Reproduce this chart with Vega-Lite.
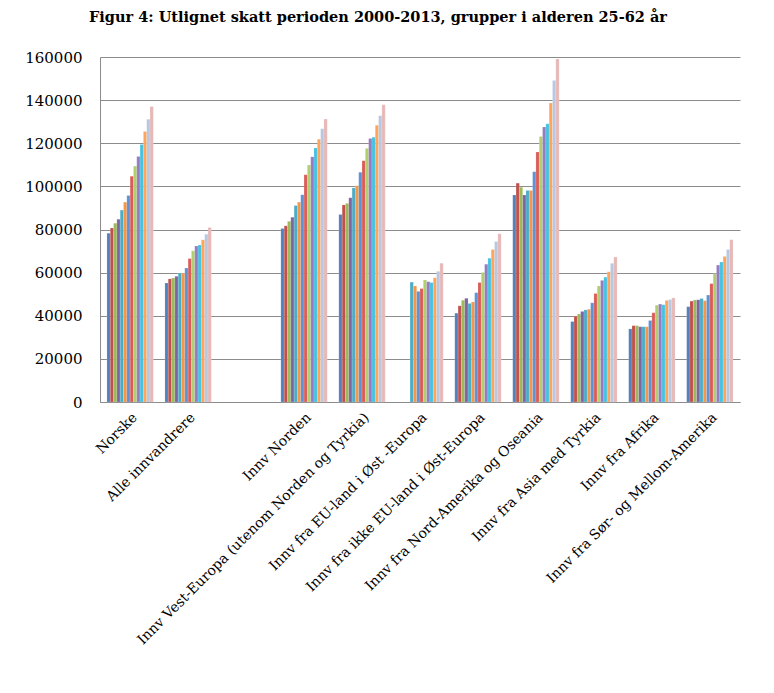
{
  "$schema": "https://vega.github.io/schema/vega-lite/v6.json",
  "autosize": {"type": "none"},
  "padding": {"left": 100, "top": 57, "right": 34, "bottom": 291},
  "width": 640,
  "height": 345,
  "title": {
    "text": "Figur 4: Utlignet skatt perioden 2000-2013, grupper i alderen 25-62 år",
    "font": "DejaVu Serif",
    "fontSize": 14.5,
    "fontWeight": "bold",
    "color": "black",
    "anchor": "middle",
    "offset": 25,
    "dx": -42
  },
  "data": {
    "values": [
      {"gruppe": "Norske", "aar": "2000", "skatt": 78300},
      {"gruppe": "Norske", "aar": "2001", "skatt": 80700},
      {"gruppe": "Norske", "aar": "2002", "skatt": 82900},
      {"gruppe": "Norske", "aar": "2003", "skatt": 84800},
      {"gruppe": "Norske", "aar": "2004", "skatt": 89000},
      {"gruppe": "Norske", "aar": "2005", "skatt": 92700},
      {"gruppe": "Norske", "aar": "2006", "skatt": 95800},
      {"gruppe": "Norske", "aar": "2007", "skatt": 104700},
      {"gruppe": "Norske", "aar": "2008", "skatt": 109400},
      {"gruppe": "Norske", "aar": "2009", "skatt": 113900},
      {"gruppe": "Norske", "aar": "2010", "skatt": 119400},
      {"gruppe": "Norske", "aar": "2011", "skatt": 125500},
      {"gruppe": "Norske", "aar": "2012", "skatt": 131100},
      {"gruppe": "Norske", "aar": "2013", "skatt": 137000},
      {"gruppe": "Alle innvandrere", "aar": "2000", "skatt": 55200},
      {"gruppe": "Alle innvandrere", "aar": "2001", "skatt": 57100},
      {"gruppe": "Alle innvandrere", "aar": "2002", "skatt": 57500},
      {"gruppe": "Alle innvandrere", "aar": "2003", "skatt": 58300},
      {"gruppe": "Alle innvandrere", "aar": "2004", "skatt": 59800},
      {"gruppe": "Alle innvandrere", "aar": "2005", "skatt": 59800},
      {"gruppe": "Alle innvandrere", "aar": "2006", "skatt": 62100},
      {"gruppe": "Alle innvandrere", "aar": "2007", "skatt": 66500},
      {"gruppe": "Alle innvandrere", "aar": "2008", "skatt": 70100},
      {"gruppe": "Alle innvandrere", "aar": "2009", "skatt": 72400},
      {"gruppe": "Alle innvandrere", "aar": "2010", "skatt": 72800},
      {"gruppe": "Alle innvandrere", "aar": "2011", "skatt": 75200},
      {"gruppe": "Alle innvandrere", "aar": "2012", "skatt": 77800},
      {"gruppe": "Alle innvandrere", "aar": "2013", "skatt": 80900},
      {"gruppe": "Innv Norden", "aar": "2000", "skatt": 80500},
      {"gruppe": "Innv Norden", "aar": "2001", "skatt": 81700},
      {"gruppe": "Innv Norden", "aar": "2002", "skatt": 83800},
      {"gruppe": "Innv Norden", "aar": "2003", "skatt": 85700},
      {"gruppe": "Innv Norden", "aar": "2004", "skatt": 91100},
      {"gruppe": "Innv Norden", "aar": "2005", "skatt": 92700},
      {"gruppe": "Innv Norden", "aar": "2006", "skatt": 96100},
      {"gruppe": "Innv Norden", "aar": "2007", "skatt": 105400},
      {"gruppe": "Innv Norden", "aar": "2008", "skatt": 109900},
      {"gruppe": "Innv Norden", "aar": "2009", "skatt": 113700},
      {"gruppe": "Innv Norden", "aar": "2010", "skatt": 117800},
      {"gruppe": "Innv Norden", "aar": "2011", "skatt": 121800},
      {"gruppe": "Innv Norden", "aar": "2012", "skatt": 126700},
      {"gruppe": "Innv Norden", "aar": "2013", "skatt": 131200},
      {"gruppe": "Innv Vest-Europa (utenom Norden og Tyrkia)", "aar": "2000", "skatt": 86900},
      {"gruppe": "Innv Vest-Europa (utenom Norden og Tyrkia)", "aar": "2001", "skatt": 91400},
      {"gruppe": "Innv Vest-Europa (utenom Norden og Tyrkia)", "aar": "2002", "skatt": 92100},
      {"gruppe": "Innv Vest-Europa (utenom Norden og Tyrkia)", "aar": "2003", "skatt": 94700},
      {"gruppe": "Innv Vest-Europa (utenom Norden og Tyrkia)", "aar": "2004", "skatt": 99300},
      {"gruppe": "Innv Vest-Europa (utenom Norden og Tyrkia)", "aar": "2005", "skatt": 100300},
      {"gruppe": "Innv Vest-Europa (utenom Norden og Tyrkia)", "aar": "2006", "skatt": 106500},
      {"gruppe": "Innv Vest-Europa (utenom Norden og Tyrkia)", "aar": "2007", "skatt": 111900},
      {"gruppe": "Innv Vest-Europa (utenom Norden og Tyrkia)", "aar": "2008", "skatt": 117600},
      {"gruppe": "Innv Vest-Europa (utenom Norden og Tyrkia)", "aar": "2009", "skatt": 122200},
      {"gruppe": "Innv Vest-Europa (utenom Norden og Tyrkia)", "aar": "2010", "skatt": 122800},
      {"gruppe": "Innv Vest-Europa (utenom Norden og Tyrkia)", "aar": "2011", "skatt": 128400},
      {"gruppe": "Innv Vest-Europa (utenom Norden og Tyrkia)", "aar": "2012", "skatt": 132800},
      {"gruppe": "Innv Vest-Europa (utenom Norden og Tyrkia)", "aar": "2013", "skatt": 137900},
      {"gruppe": "Innv fra EU-land i Øst -Europa", "aar": "2004", "skatt": 55600},
      {"gruppe": "Innv fra EU-land i Øst -Europa", "aar": "2005", "skatt": 53800},
      {"gruppe": "Innv fra EU-land i Øst -Europa", "aar": "2006", "skatt": 51300},
      {"gruppe": "Innv fra EU-land i Øst -Europa", "aar": "2007", "skatt": 52600},
      {"gruppe": "Innv fra EU-land i Øst -Europa", "aar": "2008", "skatt": 56600},
      {"gruppe": "Innv fra EU-land i Øst -Europa", "aar": "2009", "skatt": 55800},
      {"gruppe": "Innv fra EU-land i Øst -Europa", "aar": "2010", "skatt": 55400},
      {"gruppe": "Innv fra EU-land i Øst -Europa", "aar": "2011", "skatt": 57600},
      {"gruppe": "Innv fra EU-land i Øst -Europa", "aar": "2012", "skatt": 60600},
      {"gruppe": "Innv fra EU-land i Øst -Europa", "aar": "2013", "skatt": 64400},
      {"gruppe": "Innv fra ikke EU-land i Øst-Europa", "aar": "2000", "skatt": 41200},
      {"gruppe": "Innv fra ikke EU-land i Øst-Europa", "aar": "2001", "skatt": 44600},
      {"gruppe": "Innv fra ikke EU-land i Øst-Europa", "aar": "2002", "skatt": 47200},
      {"gruppe": "Innv fra ikke EU-land i Øst-Europa", "aar": "2003", "skatt": 48100},
      {"gruppe": "Innv fra ikke EU-land i Øst-Europa", "aar": "2004", "skatt": 45700},
      {"gruppe": "Innv fra ikke EU-land i Øst-Europa", "aar": "2005", "skatt": 46400},
      {"gruppe": "Innv fra ikke EU-land i Øst-Europa", "aar": "2006", "skatt": 50700},
      {"gruppe": "Innv fra ikke EU-land i Øst-Europa", "aar": "2007", "skatt": 55400},
      {"gruppe": "Innv fra ikke EU-land i Øst-Europa", "aar": "2008", "skatt": 60100},
      {"gruppe": "Innv fra ikke EU-land i Øst-Europa", "aar": "2009", "skatt": 63900},
      {"gruppe": "Innv fra ikke EU-land i Øst-Europa", "aar": "2010", "skatt": 66700},
      {"gruppe": "Innv fra ikke EU-land i Øst-Europa", "aar": "2011", "skatt": 70700},
      {"gruppe": "Innv fra ikke EU-land i Øst-Europa", "aar": "2012", "skatt": 74400},
      {"gruppe": "Innv fra ikke EU-land i Øst-Europa", "aar": "2013", "skatt": 78000},
      {"gruppe": "Innv fra Nord-Amerika og Oseania", "aar": "2000", "skatt": 96000},
      {"gruppe": "Innv fra Nord-Amerika og Oseania", "aar": "2001", "skatt": 101500},
      {"gruppe": "Innv fra Nord-Amerika og Oseania", "aar": "2002", "skatt": 99600},
      {"gruppe": "Innv fra Nord-Amerika og Oseania", "aar": "2003", "skatt": 96000},
      {"gruppe": "Innv fra Nord-Amerika og Oseania", "aar": "2004", "skatt": 98100},
      {"gruppe": "Innv fra Nord-Amerika og Oseania", "aar": "2005", "skatt": 98100},
      {"gruppe": "Innv fra Nord-Amerika og Oseania", "aar": "2006", "skatt": 106800},
      {"gruppe": "Innv fra Nord-Amerika og Oseania", "aar": "2007", "skatt": 115900},
      {"gruppe": "Innv fra Nord-Amerika og Oseania", "aar": "2008", "skatt": 123100},
      {"gruppe": "Innv fra Nord-Amerika og Oseania", "aar": "2009", "skatt": 127500},
      {"gruppe": "Innv fra Nord-Amerika og Oseania", "aar": "2010", "skatt": 129000},
      {"gruppe": "Innv fra Nord-Amerika og Oseania", "aar": "2011", "skatt": 138700},
      {"gruppe": "Innv fra Nord-Amerika og Oseania", "aar": "2012", "skatt": 149100},
      {"gruppe": "Innv fra Nord-Amerika og Oseania", "aar": "2013", "skatt": 159100},
      {"gruppe": "Innv fra Asia med Tyrkia", "aar": "2000", "skatt": 37300},
      {"gruppe": "Innv fra Asia med Tyrkia", "aar": "2001", "skatt": 39800},
      {"gruppe": "Innv fra Asia med Tyrkia", "aar": "2002", "skatt": 40800},
      {"gruppe": "Innv fra Asia med Tyrkia", "aar": "2003", "skatt": 42000},
      {"gruppe": "Innv fra Asia med Tyrkia", "aar": "2004", "skatt": 42700},
      {"gruppe": "Innv fra Asia med Tyrkia", "aar": "2005", "skatt": 43000},
      {"gruppe": "Innv fra Asia med Tyrkia", "aar": "2006", "skatt": 46000},
      {"gruppe": "Innv fra Asia med Tyrkia", "aar": "2007", "skatt": 50300},
      {"gruppe": "Innv fra Asia med Tyrkia", "aar": "2008", "skatt": 53800},
      {"gruppe": "Innv fra Asia med Tyrkia", "aar": "2009", "skatt": 56400},
      {"gruppe": "Innv fra Asia med Tyrkia", "aar": "2010", "skatt": 57900},
      {"gruppe": "Innv fra Asia med Tyrkia", "aar": "2011", "skatt": 60400},
      {"gruppe": "Innv fra Asia med Tyrkia", "aar": "2012", "skatt": 64300},
      {"gruppe": "Innv fra Asia med Tyrkia", "aar": "2013", "skatt": 67200},
      {"gruppe": "Innv fra Afrika", "aar": "2000", "skatt": 33900},
      {"gruppe": "Innv fra Afrika", "aar": "2001", "skatt": 35400},
      {"gruppe": "Innv fra Afrika", "aar": "2002", "skatt": 35400},
      {"gruppe": "Innv fra Afrika", "aar": "2003", "skatt": 34900},
      {"gruppe": "Innv fra Afrika", "aar": "2004", "skatt": 34900},
      {"gruppe": "Innv fra Afrika", "aar": "2005", "skatt": 34900},
      {"gruppe": "Innv fra Afrika", "aar": "2006", "skatt": 37800},
      {"gruppe": "Innv fra Afrika", "aar": "2007", "skatt": 41400},
      {"gruppe": "Innv fra Afrika", "aar": "2008", "skatt": 44900},
      {"gruppe": "Innv fra Afrika", "aar": "2009", "skatt": 45400},
      {"gruppe": "Innv fra Afrika", "aar": "2010", "skatt": 45100},
      {"gruppe": "Innv fra Afrika", "aar": "2011", "skatt": 47100},
      {"gruppe": "Innv fra Afrika", "aar": "2012", "skatt": 47500},
      {"gruppe": "Innv fra Afrika", "aar": "2013", "skatt": 48300},
      {"gruppe": "Innv fra Sør- og Mellom-Amerika", "aar": "2000", "skatt": 44200},
      {"gruppe": "Innv fra Sør- og Mellom-Amerika", "aar": "2001", "skatt": 46800},
      {"gruppe": "Innv fra Sør- og Mellom-Amerika", "aar": "2002", "skatt": 47300},
      {"gruppe": "Innv fra Sør- og Mellom-Amerika", "aar": "2003", "skatt": 47400},
      {"gruppe": "Innv fra Sør- og Mellom-Amerika", "aar": "2004", "skatt": 48000},
      {"gruppe": "Innv fra Sør- og Mellom-Amerika", "aar": "2005", "skatt": 47000},
      {"gruppe": "Innv fra Sør- og Mellom-Amerika", "aar": "2006", "skatt": 49600},
      {"gruppe": "Innv fra Sør- og Mellom-Amerika", "aar": "2007", "skatt": 54900},
      {"gruppe": "Innv fra Sør- og Mellom-Amerika", "aar": "2008", "skatt": 59500},
      {"gruppe": "Innv fra Sør- og Mellom-Amerika", "aar": "2009", "skatt": 63500},
      {"gruppe": "Innv fra Sør- og Mellom-Amerika", "aar": "2010", "skatt": 64900},
      {"gruppe": "Innv fra Sør- og Mellom-Amerika", "aar": "2011", "skatt": 67500},
      {"gruppe": "Innv fra Sør- og Mellom-Amerika", "aar": "2012", "skatt": 70700},
      {"gruppe": "Innv fra Sør- og Mellom-Amerika", "aar": "2013", "skatt": 75300}
    ]
  },
  "mark": {"type": "bar", "stroke": "#ffffff", "strokeWidth": 0.3, "strokeOpacity": 0.5},
  "encoding": {
    "x": {
      "field": "gruppe",
      "type": "nominal",
      "scale": {
        "domain": [
          "Norske",
          "Alle innvandrere",
          " ",
          "Innv Norden",
          "Innv Vest-Europa (utenom Norden og Tyrkia)",
          "Innv fra EU-land i Øst -Europa",
          "Innv fra ikke EU-land i Øst-Europa",
          "Innv fra Nord-Amerika og Oseania",
          "Innv fra Asia med Tyrkia",
          "Innv fra Afrika",
          "Innv fra Sør- og Mellom-Amerika"
        ],
        "paddingInner": 0.2,
        "paddingOuter": 0.12
      },
      "axis": {
        "title": null,
        "labelAngle": -45,
        "labelFontSize": 14,
        "labelFont": "DejaVu Serif",
        "labelColor": "black",
        "labelLimit": 400,
        "labelPadding": 8,
        "ticks": false,
        "domainColor": "#8c8c8c"
      }
    },
    "xOffset": {
      "field": "aar",
      "type": "nominal",
      "scale": {
        "domain": ["2000", "2001", "2002", "2003", "2004", "2005", "2006", "2007", "2008", "2009", "2010", "2011", "2012", "2013"]
      }
    },
    "y": {
      "field": "skatt",
      "type": "quantitative",
      "scale": {"domain": [0, 160000], "nice": false},
      "axis": {
        "title": null,
        "values": [0, 20000, 40000, 60000, 80000, 100000, 120000, 140000, 160000],
        "format": "d",
        "labelFontSize": 15,
        "labelFont": "DejaVu Serif",
        "labelColor": "black",
        "labelPadding": 18,
        "ticks": false,
        "domainColor": "#8c8c8c",
        "gridColor": "#8c8c8c",
        "gridWidth": 1
      }
    },
    "color": {
      "field": "aar",
      "type": "nominal",
      "legend": null,
      "scale": {
        "domain": ["2000", "2001", "2002", "2003", "2004", "2005", "2006", "2007", "2008", "2009", "2010", "2011", "2012", "2013"],
        "range": ["#4F81BD", "#C0504D", "#9BBB59", "#8064A2", "#4BACC6", "#F79646", "#5B93D6", "#DA5C58", "#AFD06A", "#977BC2", "#44C2E0", "#FFA458", "#B9C8E2", "#E6B9B8"]
      }
    }
  },
  "config": {
    "view": {"stroke": null},
    "background": "white"
  }
}
